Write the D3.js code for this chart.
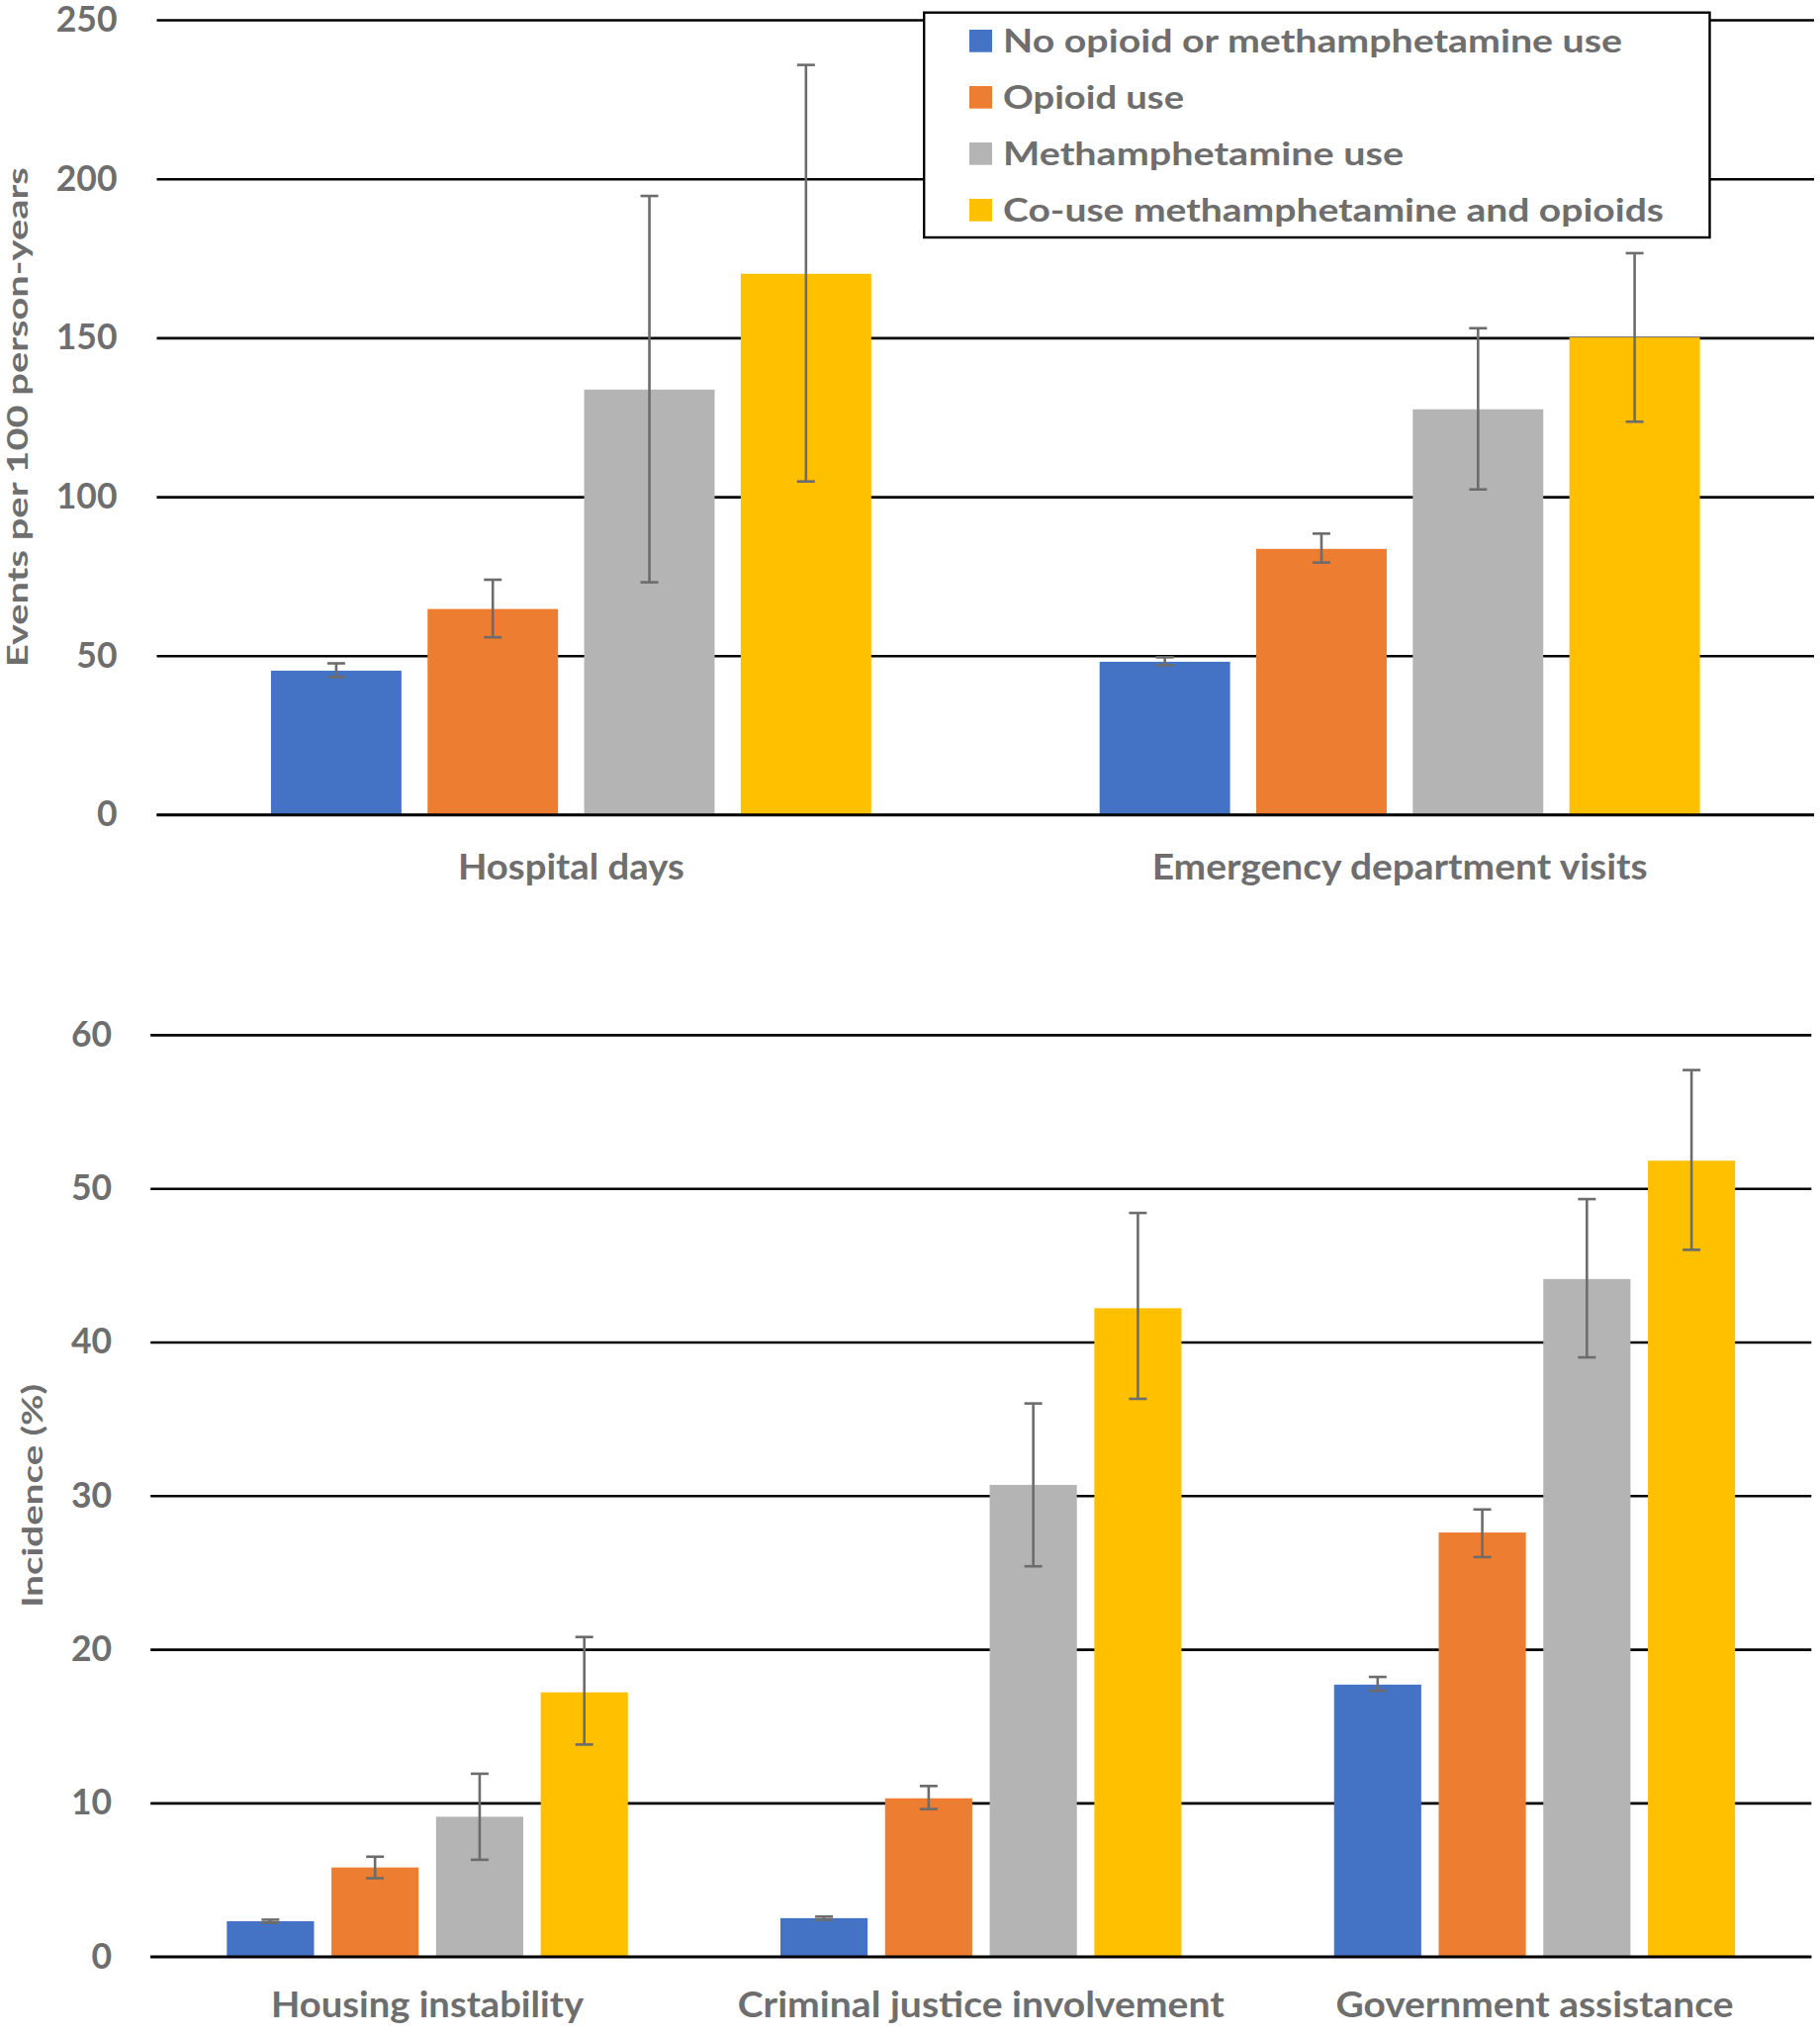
<!DOCTYPE html>
<html><head><meta charset="utf-8">
<script src="https://cdn.jsdelivr.net/npm/d3@7"></script>
<style>
html,body{margin:0;padding:0;background:#fff;}
svg{display:block;}
text{font-family:Lato,"Open Sans",sans-serif;font-weight:700;fill:#6e6e6e;}
</style></head>
<body>
<svg id="chart" width="1840" height="2058"></svg>
<script>
// ---- data ----
const seriesNames = ["No opioid or methamphetamine use","Opioid use","Methamphetamine use","Co-use methamphetamine and opioids"];
const seriesColors = ["#4472C4","#ED7D31","#B4B4B4","#FFC000"];

const topCategories = ["Hospital days","Emergency department visits"];
const topNone   = [45.3, 48.1];
const topOpioid = [64.7, 83.6];
const topMeth   = [133.7, 127.5];
const topCo     = [170.1, 150.1];
const topNoneLow   = [43.3, 47.0],  topNoneHigh   = [47.6, 49.5];
const topOpioidLow = [55.8, 79.3],  topOpioidHigh = [73.9, 88.4];
const topMethLow   = [73.1, 102.3], topMethHigh   = [194.6, 153.0];
const topCoLow     = [104.8, 123.6],topCoHigh     = [235.8, 176.6];
const topTicks = [0,50,100,150,200,250];
const topTitle = "Events per 100 person-years";

const botCategories = ["Housing instability","Criminal justice involvement","Government assistance"];
const botNone   = [2.3, 2.5, 17.7];
const botOpioid = [5.8, 10.3, 27.6];
const botMeth   = [9.1, 30.7, 44.1];
const botCo     = [17.2, 42.2, 51.8];
const botNoneLow   = [2.2, 2.4, 17.3],  botNoneHigh   = [2.4, 2.6, 18.2];
const botOpioidLow = [5.1, 9.6, 26.0],  botOpioidHigh = [6.5, 11.1, 29.1];
const botMethLow   = [6.3, 25.4, 39.0], botMethHigh   = [11.9, 36.0, 49.3];
const botCoLow     = [13.8, 36.3, 46.0],botCoHigh     = [20.8, 48.4, 57.7];
const botTicks = [0,10,20,30,40,50,60];
const botTitle = "Incidence (%)";

// ---- layout (pixels) ----
const labelWidths = {
  "Hospital days":229, "Emergency department visits":501,
  "Housing instability":316, "Criminal justice involvement":492, "Government assistance":402,
  "Events per 100 person-years":505, "Incidence (%)":226,
  "No opioid or methamphetamine use":626, "Opioid use":183, "Methamphetamine use":405,
  "Co-use methamphetamine and opioids":668
};

const svg = d3.select("#chart");

function fit(sel, key){
  const w = labelWidths[key];
  if (w) sel.attr("textLength", w).attr("lengthAdjust","spacingAndGlyphs");
}

function panel(cfg){
  const g = svg.append("g");
  const x = d3.scaleBand().domain(cfg.cats).range([cfg.left, cfg.right]).padding(0);
  const y = d3.scaleLinear().domain([0, d3.max(cfg.ticks)]).range([cfg.bottom, cfg.top]);
  const bw = x.bandwidth()/6.35, gap = bw*0.2;
  const groupW = 4*bw + 3*gap;
  const off = (x.bandwidth()-groupW)/2;
  const xs = i => off + i*(bw+gap);

  // gridlines
  const grid = g.append("g").attr("transform",`translate(${cfg.left},0)`)
    .call(d3.axisRight(y).tickValues(cfg.ticks).tickSize(cfg.right-cfg.left).tickFormat(""));
  grid.select(".domain").remove();
  grid.selectAll("line").attr("stroke","#000").attr("stroke-width",2.6);

  // tick labels
  const lab = g.append("g").attr("transform",`translate(${cfg.left},0)`)
    .call(d3.axisLeft(y).tickValues(cfg.ticks).tickSize(0).tickPadding(cfg.tickPad).tickFormat(d3.format("d")));
  lab.select(".domain").remove();
  lab.selectAll("text").attr("font-size",35.5).attr("fill","#6e6e6e")
     .style("font-family","Lato, sans-serif").style("font-weight",700);

  // bars
  cfg.series.forEach((s,si)=>{
    g.append("g").selectAll("rect").data(cfg.cats).join("rect")
      .attr("x",(c)=>x(c)+xs(si)).attr("width",bw)
      .attr("y",(c,i)=>y(s.v[i])).attr("height",(c,i)=>y(0)-y(s.v[i]))
      .attr("fill",seriesColors[si]);
  });
  // zero line on top
  g.append("line").attr("x1",cfg.left).attr("x2",cfg.right).attr("y1",y(0)).attr("y2",y(0))
    .attr("stroke","#000").attr("stroke-width",2.6);

  // error bars
  cfg.series.forEach((s,si)=>{
    const eg = g.append("g").attr("stroke","#6c6c6c").attr("stroke-width",2.6);
    cfg.cats.forEach((c,i)=>{
      const cx = x(c)+xs(si)+bw/2;
      eg.append("line").attr("x1",cx).attr("x2",cx).attr("y1",y(s.hi[i])).attr("y2",y(s.lo[i]));
      eg.append("line").attr("x1",cx-9).attr("x2",cx+9).attr("y1",y(s.hi[i])).attr("y2",y(s.hi[i]));
      eg.append("line").attr("x1",cx-9).attr("x2",cx+9).attr("y1",y(s.lo[i])).attr("y2",y(s.lo[i]));
    });
  });

  // category labels
  cfg.cats.forEach(c=>{
    const t = g.append("text").attr("x",x(c)+x.bandwidth()/2).attr("y",cfg.catBase)
      .attr("text-anchor","middle").attr("font-size",36).text(c);
    fit(t,c);
  });

  // axis title
  const tt = g.append("text")
    .attr("transform",`translate(${cfg.titleX},${(cfg.top+cfg.bottom)/2}) rotate(-90)`)
    .attr("text-anchor","middle").attr("font-size",28.5).text(cfg.title);
  fit(tt,cfg.title);
  return {x,y};
}

panel({
  cats: topCategories, ticks: topTicks, title: topTitle,
  left:158.5, right:1834, top:20, bottom:823.5, tickPad:40, catBase:889, titleX:28,
  series:[
    {v:topNone, lo:topNoneLow, hi:topNoneHigh},
    {v:topOpioid, lo:topOpioidLow, hi:topOpioidHigh},
    {v:topMeth, lo:topMethLow, hi:topMethHigh},
    {v:topCo, lo:topCoLow, hi:topCoHigh}
  ]
});

panel({
  cats: botCategories, ticks: botTicks, title: botTitle,
  left:152.2, right:1831.3, top:1045.9, bottom:1977.7, tickPad:39, catBase:2039, titleX:43,
  series:[
    {v:botNone, lo:botNoneLow, hi:botNoneHigh},
    {v:botOpioid, lo:botOpioidLow, hi:botOpioidHigh},
    {v:botMeth, lo:botMethLow, hi:botMethHigh},
    {v:botCo, lo:botCoLow, hi:botCoHigh}
  ]
});

// legend
const lg = svg.append("g");
lg.append("rect").attr("x",934.2).attr("y",12.7).attr("width",1728.5-934.2).attr("height",240-12.7)
  .attr("fill","#fff").attr("stroke","#000").attr("stroke-width",2.4);
seriesNames.forEach((n,i)=>{
  const base = 52.7 + i*57;
  lg.append("rect").attr("x",980).attr("y",base-22.7).attr("width",23).attr("height",22.7).attr("fill",seriesColors[i]);
  const t = lg.append("text").attr("x",1014).attr("y",base).attr("font-size",31.5).text(n);
  fit(t,n);
});
</script>
</body></html>
